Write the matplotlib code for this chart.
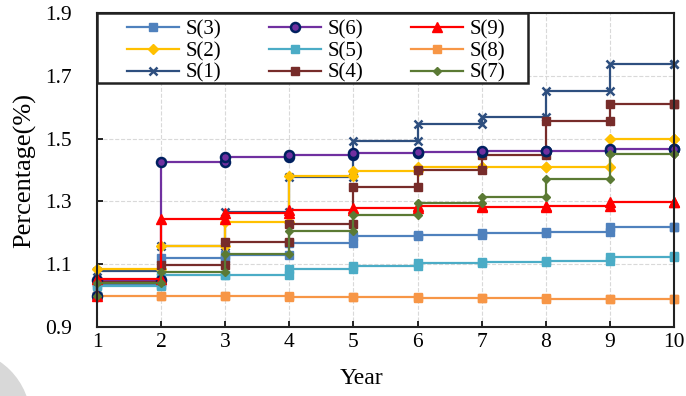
import matplotlib
matplotlib.use("Agg")
import matplotlib.pyplot as plt
from matplotlib.patches import Circle, Rectangle

plt.rcParams['font.family'] = ['Liberation Serif', 'DejaVu Serif']

years = [1, 2, 3, 4, 5, 6, 7, 8, 9, 10]
start = 1.0

s1 = [1.078, 1.157, 1.266, 1.377, 1.491, 1.545, 1.568, 1.652, 1.738, 1.738]
s2 = [1.085, 1.158, 1.233, 1.382, 1.398, 1.408, 1.409, 1.409, 1.498, 1.498]
s3 = [1.033, 1.120, 1.130, 1.166, 1.190, 1.193, 1.198, 1.203, 1.219, 1.219]
s4 = [1.044, 1.097, 1.172, 1.229, 1.345, 1.400, 1.449, 1.557, 1.610, 1.610]
s5 = [1.030, 1.066, 1.067, 1.085, 1.095, 1.103, 1.108, 1.111, 1.124, 1.126]
s6 = [1.050, 1.425, 1.440, 1.448, 1.455, 1.458, 1.460, 1.461, 1.466, 1.466]
s7 = [1.039, 1.075, 1.132, 1.207, 1.256, 1.296, 1.315, 1.371, 1.451, 1.451]
s8 = [1.000, 0.999, 0.998, 0.996, 0.994, 0.993, 0.991, 0.990, 0.990, 0.990]
s9 = [1.052, 1.245, 1.262, 1.274, 1.278, 1.285, 1.282, 1.284, 1.299, 1.299]

labels = ['S(1)', 'S(2)', 'S(3)', 'S(4)', 'S(5)', 'S(6)', 'S(7)', 'S(8)', 'S(9)']
series = [s1, s2, s3, s4, s5, s6, s7, s8, s9]
colors = ['#2E4F7F', '#FFC000', '#4F81BD', '#772C2A', '#4BACC6',
          '#7030A0', '#5B7A34', '#F79646', '#FF0000']
markers = ['x', 'D', 's', 's', 's', 'o', 'D', 's', '^']
msizes = [6, 5, 5.5, 6, 6, 6.5, 4, 6, 6.5]


def step_path(vals):
    xs = [years[0]]
    ys = [start]
    for i, v in enumerate(vals):
        xs.append(years[i])
        ys.append(v)
        if i + 1 < len(vals):
            xs.append(years[i + 1])
            ys.append(v)
    return xs, ys


fig = plt.figure(figsize=(6.86, 3.96), dpi=100)
ax = fig.add_axes([97 / 686, 1 - 327 / 396, 577 / 686, 314 / 396])

handles = {}
for idx in [7, 0, 1, 2, 3, 4, 5, 8, 6]:
    xs, ys = step_path(series[idx])
    mec = '#002060' if idx == 5 else colors[idx]
    mew = 1.8 if markers[idx] in ('x', 'o') else 1.0
    line, = ax.plot(xs, ys, color=colors[idx], lw=1.6, marker=markers[idx],
                    ms=msizes[idx], mfc=colors[idx], mec=mec, mew=mew,
                    label=labels[idx], clip_on=False)
    handles[idx] = line

ax.set_xlim(1, 10)
ax.set_ylim(0.9, 1.9)
ax.set_xticks(years)
ax.set_yticks([0.9, 1.1, 1.3, 1.5, 1.7, 1.9])
ax.tick_params(direction='in', labelsize=15.5, width=1.2, length=4)
ax.tick_params(axis='y', pad=18)
ax.tick_params(axis='x', pad=4)
ax.grid(True, color='#D9D9D9', ls='--', lw=0.8)
ax.set_axisbelow(True)
for sp in ax.spines.values():
    sp.set_linewidth(1.5)
    sp.set_color('#222222')

ax.set_xlabel('Year', fontsize=17, va='top')
ax.xaxis.set_label_coords(0.459, -0.132)
ax.set_ylabel('Percentage(%)', fontsize=19)
ax.yaxis.set_label_coords(-0.106, 0.5)

# legend box drawn separately so the padding matches
box = Rectangle((0, (327 - 83) / 314), (528 - 97) / 577, 1 - (327 - 83) / 314,
                transform=ax.transAxes, facecolor='white', edgecolor='#222222',
                lw=1.8, zorder=4, clip_on=False)
ax.add_patch(box)

order = [2, 1, 0, 5, 4, 3, 8, 7, 6]
leg = ax.legend([handles[i] for i in order], [labels[i] for i in order],
                ncol=3, loc='upper left',
                bbox_to_anchor=((127 - 97) / 577, (327 - 20) / 314),
                fontsize=15, frameon=False, handlelength=2.5,
                handletextpad=0.3, columnspacing=2.3, labelspacing=0.1,
                borderpad=0, borderaxespad=0)
leg.set_zorder(5)

fig.patches.append(Circle((-40, -24), 70, transform=None, color='#D8D8D8',
                          zorder=0))

fig.savefig('out.png', dpi=100)
